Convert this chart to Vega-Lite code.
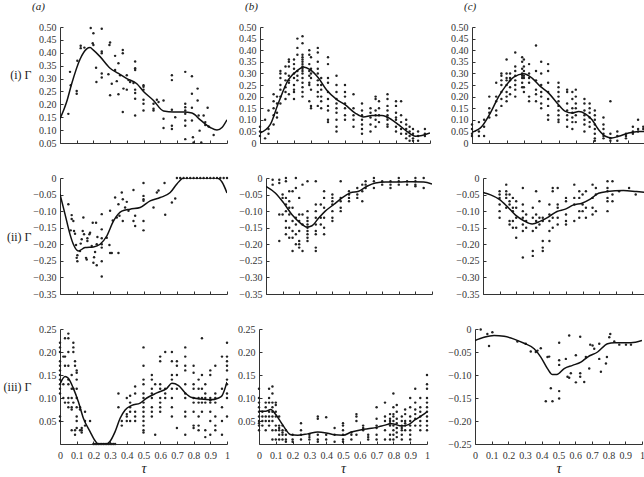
{
"$schema":"https://vega.github.io/schema/vega-lite/v6.json",
"padding":{"left":0,"top":1,"right":0,"bottom":0},
"columns":3,
"align":{"row":"each","column":"none"},
"spacing":{"row":25,"column":7},
"config":{
 "view":{"stroke":null},
 "font":"Liberation Serif",
 "axis":{"grid":false,"domainColor":"#333","tickColor":"#333","labelColor":"#333","labelFont":"Liberation Serif","labelFontSize":10,"tickSize":-3,"domainWidth":1,"tickWidth":1,"titleFont":"Liberation Serif","titleColor":"#222","titleFontWeight":"normal","labelFlush":false,"labelOverlap":false,"labelBound":false,"tickCount":30},
 "axisY":{"labelPadding":7},
 "axisX":{"labelPadding":9},
 "title":{"font":"Liberation Serif","fontSize":11,"fontStyle":"italic","fontWeight":"normal","anchor":"start","frame":"group","color":"#222","offset":10}
},
"datasets":{
"a1":[{"x":0.05,"y":0.163},{"x":0.06,"y":0.326},{"x":0.064,"y":0.274},{"x":0.1,"y":0.252},{"x":0.1,"y":0.241},{"x":0.104,"y":0.369},{"x":0.124,"y":0.427},{"x":0.124,"y":0.418},{"x":0.146,"y":0.42},{"x":0.184,"y":0.496},{"x":0.2,"y":0.476},{"x":0.196,"y":0.437},{"x":0.2,"y":0.43},{"x":0.216,"y":0.342},{"x":0.218,"y":0.287},{"x":0.25,"y":0.493},{"x":0.25,"y":0.405},{"x":0.25,"y":0.398},{"x":0.25,"y":0.32},{"x":0.25,"y":0.304},{"x":0.29,"y":0.317},{"x":0.296,"y":0.43},{"x":0.3,"y":0.44},{"x":0.3,"y":0.235},{"x":0.31,"y":0.28},{"x":0.33,"y":0.388},{"x":0.33,"y":0.333},{"x":0.34,"y":0.29},{"x":0.35,"y":0.359},{"x":0.35,"y":0.239},{"x":0.36,"y":0.313},{"x":0.376,"y":0.411},{"x":0.376,"y":0.398},{"x":0.376,"y":0.17},{"x":0.38,"y":0.261},{"x":0.4,"y":0.257},{"x":0.4,"y":0.313},{"x":0.41,"y":0.294},{"x":0.42,"y":0.287},{"x":0.44,"y":0.283},{"x":0.45,"y":0.366},{"x":0.45,"y":0.34},{"x":0.45,"y":0.333},{"x":0.45,"y":0.257},{"x":0.45,"y":0.222},{"x":0.45,"y":0.157},{"x":0.45,"y":0.244},{"x":0.5,"y":0.274},{"x":0.5,"y":0.268},{"x":0.5,"y":0.257},{"x":0.5,"y":0.218},{"x":0.5,"y":0.202},{"x":0.5,"y":0.176},{"x":0.56,"y":0.202},{"x":0.56,"y":0.183},{"x":0.56,"y":0.176},{"x":0.58,"y":0.218},{"x":0.59,"y":0.209},{"x":0.62,"y":0.215},{"x":0.62,"y":0.144},{"x":0.62,"y":0.108},{"x":0.67,"y":0.313},{"x":0.67,"y":0.294},{"x":0.67,"y":0.179},{"x":0.67,"y":0.117},{"x":0.67,"y":0.104},{"x":0.69,"y":0.15},{"x":0.75,"y":0.326},{"x":0.75,"y":0.202},{"x":0.75,"y":0.189},{"x":0.75,"y":0.176},{"x":0.75,"y":0.163},{"x":0.75,"y":0.137},{"x":0.75,"y":0.117},{"x":0.75,"y":0.065},{"x":0.79,"y":0.309},{"x":0.79,"y":0.241},{"x":0.79,"y":0.187},{"x":0.79,"y":0.137},{"x":0.796,"y":0.072},{"x":0.8,"y":0.052},{"x":0.824,"y":0.261},{"x":0.824,"y":0.215},{"x":0.83,"y":0.157},{"x":0.836,"y":0.098},{"x":0.846,"y":0.052},{"x":0.86,"y":0.157},{"x":0.87,"y":0.131},{"x":0.884,"y":0.187},{"x":0.89,"y":0.114},{"x":0.92,"y":0.081},{"x":0.87,"y":0.12}],
"a1L":[{"x":0,"y":0.144},{"x":0.04,"y":0.21},{"x":0.07,"y":0.28},{"x":0.12,"y":0.375},{"x":0.16,"y":0.415},{"x":0.18,"y":0.42},{"x":0.2,"y":0.41},{"x":0.24,"y":0.385},{"x":0.3,"y":0.34},{"x":0.35,"y":0.32},{"x":0.4,"y":0.3},{"x":0.46,"y":0.28},{"x":0.5,"y":0.25},{"x":0.56,"y":0.215},{"x":0.62,"y":0.174},{"x":0.68,"y":0.17},{"x":0.74,"y":0.17},{"x":0.79,"y":0.166},{"x":0.84,"y":0.14},{"x":0.9,"y":0.11},{"x":0.94,"y":0.1},{"x":0.97,"y":0.11},{"x":1,"y":0.14}],
"b1":[{"x":0,"y":0.07},{"x":0,"y":0.05},{"x":0,"y":0.03},{"x":0.03,"y":0.1},{"x":0.03,"y":0.02},{"x":0.05,"y":0.14},{"x":0.05,"y":0.06},{"x":0.05,"y":0.04},{"x":0.08,"y":0.18},{"x":0.08,"y":0.21},{"x":0.08,"y":0.15},{"x":0.08,"y":0.08},{"x":0.08,"y":0.12},{"x":0.1,"y":0.2},{"x":0.1,"y":0.17},{"x":0.1,"y":0.13},{"x":0.1,"y":0.11},{"x":0.12,"y":0.31},{"x":0.12,"y":0.3},{"x":0.12,"y":0.28},{"x":0.12,"y":0.25},{"x":0.12,"y":0.23},{"x":0.12,"y":0.2},{"x":0.12,"y":0.17},{"x":0.15,"y":0.33},{"x":0.15,"y":0.3},{"x":0.15,"y":0.27},{"x":0.15,"y":0.24},{"x":0.15,"y":0.22},{"x":0.15,"y":0.19},{"x":0.17,"y":0.36},{"x":0.17,"y":0.35},{"x":0.17,"y":0.33},{"x":0.17,"y":0.29},{"x":0.17,"y":0.27},{"x":0.17,"y":0.21},{"x":0.17,"y":0.26},{"x":0.2,"y":0.36},{"x":0.2,"y":0.34},{"x":0.2,"y":0.32},{"x":0.2,"y":0.3},{"x":0.2,"y":0.28},{"x":0.2,"y":0.25},{"x":0.2,"y":0.23},{"x":0.2,"y":0.22},{"x":0.2,"y":0.19},{"x":0.22,"y":0.45},{"x":0.22,"y":0.41},{"x":0.22,"y":0.38},{"x":0.22,"y":0.31},{"x":0.22,"y":0.29},{"x":0.22,"y":0.27},{"x":0.25,"y":0.46},{"x":0.25,"y":0.43},{"x":0.25,"y":0.38},{"x":0.25,"y":0.37},{"x":0.25,"y":0.36},{"x":0.25,"y":0.35},{"x":0.25,"y":0.34},{"x":0.25,"y":0.33},{"x":0.25,"y":0.32},{"x":0.25,"y":0.31},{"x":0.25,"y":0.3},{"x":0.25,"y":0.28},{"x":0.25,"y":0.26},{"x":0.25,"y":0.24},{"x":0.25,"y":0.22},{"x":0.25,"y":0.2},{"x":0.29,"y":0.4},{"x":0.29,"y":0.38},{"x":0.29,"y":0.34},{"x":0.29,"y":0.31},{"x":0.29,"y":0.29},{"x":0.29,"y":0.26},{"x":0.29,"y":0.25},{"x":0.29,"y":0.18},{"x":0.3,"y":0.37},{"x":0.3,"y":0.32},{"x":0.3,"y":0.3},{"x":0.3,"y":0.28},{"x":0.3,"y":0.23},{"x":0.3,"y":0.16},{"x":0.3,"y":0.15},{"x":0.34,"y":0.41},{"x":0.34,"y":0.39},{"x":0.34,"y":0.35},{"x":0.34,"y":0.32},{"x":0.34,"y":0.3},{"x":0.34,"y":0.27},{"x":0.34,"y":0.25},{"x":0.34,"y":0.22},{"x":0.34,"y":0.2},{"x":0.34,"y":0.16},{"x":0.36,"y":0.28},{"x":0.36,"y":0.25},{"x":0.36,"y":0.23},{"x":0.36,"y":0.2},{"x":0.36,"y":0.18},{"x":0.36,"y":0.15},{"x":0.4,"y":0.37},{"x":0.4,"y":0.34},{"x":0.4,"y":0.28},{"x":0.4,"y":0.26},{"x":0.4,"y":0.22},{"x":0.4,"y":0.19},{"x":0.4,"y":0.16},{"x":0.4,"y":0.14},{"x":0.4,"y":0.1},{"x":0.4,"y":0.09},{"x":0.45,"y":0.29},{"x":0.45,"y":0.25},{"x":0.45,"y":0.22},{"x":0.45,"y":0.19},{"x":0.45,"y":0.17},{"x":0.45,"y":0.15},{"x":0.45,"y":0.13},{"x":0.45,"y":0.1},{"x":0.45,"y":0.07},{"x":0.45,"y":0.05},{"x":0.5,"y":0.25},{"x":0.5,"y":0.22},{"x":0.5,"y":0.2},{"x":0.5,"y":0.17},{"x":0.5,"y":0.15},{"x":0.5,"y":0.12},{"x":0.5,"y":0.1},{"x":0.55,"y":0.21},{"x":0.55,"y":0.15},{"x":0.55,"y":0.12},{"x":0.55,"y":0.1},{"x":0.55,"y":0.07},{"x":0.6,"y":0.17},{"x":0.6,"y":0.14},{"x":0.6,"y":0.12},{"x":0.6,"y":0.1},{"x":0.6,"y":0.08},{"x":0.6,"y":0.06},{"x":0.6,"y":0.04},{"x":0.65,"y":0.15},{"x":0.65,"y":0.13},{"x":0.65,"y":0.11},{"x":0.65,"y":0.08},{"x":0.65,"y":0.05},{"x":0.68,"y":0.2},{"x":0.68,"y":0.19},{"x":0.68,"y":0.14},{"x":0.68,"y":0.12},{"x":0.68,"y":0.1},{"x":0.68,"y":0.07},{"x":0.7,"y":0.18},{"x":0.7,"y":0.15},{"x":0.7,"y":0.12},{"x":0.7,"y":0.09},{"x":0.75,"y":0.21},{"x":0.75,"y":0.19},{"x":0.75,"y":0.16},{"x":0.75,"y":0.14},{"x":0.75,"y":0.12},{"x":0.75,"y":0.11},{"x":0.75,"y":0.1},{"x":0.75,"y":0.08},{"x":0.75,"y":0.07},{"x":0.8,"y":0.18},{"x":0.8,"y":0.16},{"x":0.8,"y":0.13},{"x":0.8,"y":0.11},{"x":0.8,"y":0.1},{"x":0.8,"y":0.07},{"x":0.8,"y":0.05},{"x":0.83,"y":0.18},{"x":0.83,"y":0.12},{"x":0.83,"y":0.09},{"x":0.83,"y":0.06},{"x":0.83,"y":0.04},{"x":0.86,"y":0.1},{"x":0.86,"y":0.08},{"x":0.86,"y":0.06},{"x":0.86,"y":0.04},{"x":0.86,"y":0.02},{"x":0.88,"y":0.07},{"x":0.88,"y":0.05},{"x":0.88,"y":0.03},{"x":0.88,"y":0.01},{"x":0.9,"y":0.06},{"x":0.9,"y":0.04},{"x":0.9,"y":0.02},{"x":0.9,"y":0.01},{"x":0.93,"y":0.05},{"x":0.93,"y":0.03},{"x":0.93,"y":0.01},{"x":0.97,"y":0.06},{"x":0.97,"y":0.03},{"x":0.97,"y":0.04}],
"b1L":[{"x":0,"y":0.043},{"x":0.06,"y":0.079},{"x":0.108,"y":0.172},{"x":0.167,"y":0.273},{"x":0.226,"y":0.316},{"x":0.255,"y":0.328},{"x":0.295,"y":0.316},{"x":0.344,"y":0.28},{"x":0.393,"y":0.227},{"x":0.452,"y":0.187},{"x":0.5,"y":0.165},{"x":0.56,"y":0.129},{"x":0.609,"y":0.112},{"x":0.658,"y":0.118},{"x":0.717,"y":0.118},{"x":0.776,"y":0.1},{"x":0.815,"y":0.079},{"x":0.864,"y":0.05},{"x":0.914,"y":0.029},{"x":0.953,"y":0.032},{"x":1,"y":0.043}],
"c1":[{"x":0,"y":0.08},{"x":0,"y":0.06},{"x":0,"y":0.04},{"x":0,"y":0.03},{"x":0.04,"y":0.09},{"x":0.04,"y":0.05},{"x":0.04,"y":0.03},{"x":0.07,"y":0.1},{"x":0.07,"y":0.07},{"x":0.07,"y":0.03},{"x":0.1,"y":0.2},{"x":0.1,"y":0.15},{"x":0.1,"y":0.13},{"x":0.1,"y":0.11},{"x":0.14,"y":0.26},{"x":0.14,"y":0.2},{"x":0.14,"y":0.18},{"x":0.14,"y":0.14},{"x":0.14,"y":0.12},{"x":0.17,"y":0.3},{"x":0.17,"y":0.29},{"x":0.17,"y":0.27},{"x":0.17,"y":0.25},{"x":0.17,"y":0.22},{"x":0.17,"y":0.19},{"x":0.17,"y":0.16},{"x":0.2,"y":0.36},{"x":0.2,"y":0.3},{"x":0.2,"y":0.28},{"x":0.2,"y":0.27},{"x":0.2,"y":0.25},{"x":0.2,"y":0.22},{"x":0.2,"y":0.2},{"x":0.2,"y":0.18},{"x":0.22,"y":0.3},{"x":0.22,"y":0.28},{"x":0.22,"y":0.27},{"x":0.22,"y":0.24},{"x":0.22,"y":0.21},{"x":0.25,"y":0.39},{"x":0.25,"y":0.33},{"x":0.25,"y":0.31},{"x":0.25,"y":0.29},{"x":0.25,"y":0.27},{"x":0.25,"y":0.25},{"x":0.25,"y":0.23},{"x":0.25,"y":0.2},{"x":0.29,"y":0.37},{"x":0.29,"y":0.35},{"x":0.29,"y":0.32},{"x":0.29,"y":0.3},{"x":0.29,"y":0.29},{"x":0.29,"y":0.28},{"x":0.29,"y":0.26},{"x":0.29,"y":0.24},{"x":0.3,"y":0.36},{"x":0.3,"y":0.33},{"x":0.3,"y":0.31},{"x":0.3,"y":0.29},{"x":0.3,"y":0.28},{"x":0.3,"y":0.24},{"x":0.3,"y":0.22},{"x":0.33,"y":0.34},{"x":0.33,"y":0.3},{"x":0.33,"y":0.28},{"x":0.33,"y":0.26},{"x":0.33,"y":0.2},{"x":0.33,"y":0.18},{"x":0.37,"y":0.42},{"x":0.37,"y":0.31},{"x":0.37,"y":0.27},{"x":0.37,"y":0.23},{"x":0.37,"y":0.21},{"x":0.37,"y":0.18},{"x":0.4,"y":0.35},{"x":0.4,"y":0.3},{"x":0.4,"y":0.25},{"x":0.4,"y":0.22},{"x":0.4,"y":0.2},{"x":0.4,"y":0.17},{"x":0.4,"y":0.15},{"x":0.44,"y":0.34},{"x":0.44,"y":0.31},{"x":0.44,"y":0.26},{"x":0.44,"y":0.22},{"x":0.44,"y":0.19},{"x":0.44,"y":0.16},{"x":0.44,"y":0.12},{"x":0.44,"y":0.1},{"x":0.5,"y":0.26},{"x":0.5,"y":0.24},{"x":0.5,"y":0.22},{"x":0.5,"y":0.2},{"x":0.5,"y":0.18},{"x":0.5,"y":0.16},{"x":0.5,"y":0.14},{"x":0.5,"y":0.12},{"x":0.5,"y":0.1},{"x":0.5,"y":0.09},{"x":0.55,"y":0.23},{"x":0.55,"y":0.22},{"x":0.55,"y":0.17},{"x":0.55,"y":0.14},{"x":0.55,"y":0.12},{"x":0.55,"y":0.1},{"x":0.55,"y":0.07},{"x":0.58,"y":0.22},{"x":0.58,"y":0.19},{"x":0.58,"y":0.15},{"x":0.58,"y":0.13},{"x":0.58,"y":0.11},{"x":0.58,"y":0.09},{"x":0.58,"y":0.06},{"x":0.6,"y":0.23},{"x":0.6,"y":0.2},{"x":0.6,"y":0.17},{"x":0.6,"y":0.15},{"x":0.6,"y":0.12},{"x":0.6,"y":0.09},{"x":0.65,"y":0.19},{"x":0.65,"y":0.17},{"x":0.65,"y":0.14},{"x":0.65,"y":0.12},{"x":0.65,"y":0.1},{"x":0.65,"y":0.08},{"x":0.65,"y":0.05},{"x":0.68,"y":0.17},{"x":0.68,"y":0.15},{"x":0.68,"y":0.13},{"x":0.68,"y":0.11},{"x":0.68,"y":0.09},{"x":0.68,"y":0.07},{"x":0.71,"y":0.14},{"x":0.71,"y":0.12},{"x":0.71,"y":0.1},{"x":0.71,"y":0.08},{"x":0.71,"y":0.06},{"x":0.71,"y":0.04},{"x":0.71,"y":0.02},{"x":0.71,"y":0.01},{"x":0.76,"y":0.11},{"x":0.76,"y":0.08},{"x":0.76,"y":0.06},{"x":0.76,"y":0.04},{"x":0.76,"y":0.03},{"x":0.76,"y":0.02},{"x":0.8,"y":0.18},{"x":0.8,"y":0.04},{"x":0.8,"y":0.02},{"x":0.8,"y":0.01},{"x":0.84,"y":0.05},{"x":0.84,"y":0.03},{"x":0.84,"y":0.01},{"x":0.89,"y":0.04},{"x":0.89,"y":0.03},{"x":0.89,"y":0.02},{"x":0.93,"y":0.07},{"x":0.93,"y":0.05},{"x":0.93,"y":0.04},{"x":0.96,"y":0.1},{"x":0.96,"y":0.06},{"x":0.96,"y":0.05},{"x":0.99,"y":0.07},{"x":0.99,"y":0.06}],
"c1L":[{"x":0,"y":0.046},{"x":0.058,"y":0.072},{"x":0.106,"y":0.129},{"x":0.154,"y":0.2},{"x":0.193,"y":0.244},{"x":0.241,"y":0.284},{"x":0.3,"y":0.299},{"x":0.347,"y":0.28},{"x":0.395,"y":0.244},{"x":0.443,"y":0.215},{"x":0.5,"y":0.165},{"x":0.54,"y":0.136},{"x":0.578,"y":0.129},{"x":0.617,"y":0.136},{"x":0.655,"y":0.126},{"x":0.694,"y":0.1},{"x":0.732,"y":0.057},{"x":0.771,"y":0.029},{"x":0.809,"y":0.022},{"x":0.848,"y":0.029},{"x":0.905,"y":0.043},{"x":0.963,"y":0.05},{"x":1,"y":0.05}],
"a2":[{"x":0.05,"y":-0.079},{"x":0.064,"y":-0.158},{"x":0.07,"y":-0.112},{"x":0.07,"y":-0.124},{"x":0.08,"y":-0.13},{"x":0.084,"y":-0.16},{"x":0.09,"y":-0.168},{"x":0.096,"y":-0.202},{"x":0.104,"y":-0.233},{"x":0.1,"y":-0.241},{"x":0.104,"y":-0.251},{"x":0.12,"y":-0.22},{"x":0.124,"y":-0.198},{"x":0.13,"y":-0.185},{"x":0.136,"y":-0.16},{"x":0.14,"y":-0.119},{"x":0.144,"y":-0.17},{"x":0.156,"y":-0.241},{"x":0.16,"y":-0.246},{"x":0.164,"y":-0.182},{"x":0.164,"y":-0.19},{"x":0.176,"y":-0.17},{"x":0.18,"y":-0.165},{"x":0.19,"y":-0.205},{"x":0.196,"y":-0.135},{"x":0.2,"y":-0.256},{"x":0.204,"y":-0.239},{"x":0.21,"y":-0.223},{"x":0.216,"y":-0.135},{"x":0.22,"y":-0.2},{"x":0.22,"y":-0.263},{"x":0.224,"y":-0.178},{"x":0.25,"y":-0.155},{"x":0.25,"y":-0.182},{"x":0.25,"y":-0.2},{"x":0.25,"y":-0.21},{"x":0.25,"y":-0.251},{"x":0.25,"y":-0.297},{"x":0.25,"y":-0.109},{"x":0.28,"y":-0.18},{"x":0.296,"y":-0.202},{"x":0.3,"y":-0.099},{"x":0.3,"y":-0.226},{"x":0.31,"y":-0.226},{"x":0.316,"y":-0.128},{"x":0.33,"y":-0.059},{"x":0.34,"y":-0.119},{"x":0.35,"y":-0.079},{"x":0.35,"y":-0.226},{"x":0.356,"y":-0.114},{"x":0.37,"y":-0.044},{"x":0.376,"y":-0.064},{"x":0.376,"y":-0.13},{"x":0.39,"y":-0.089},{"x":0.4,"y":-0.072},{"x":0.41,"y":-0.099},{"x":0.44,"y":-0.036},{"x":0.44,"y":-0.13},{"x":0.45,"y":-0.114},{"x":0.45,"y":-0.145},{"x":0.5,"y":-0.015},{"x":0.5,"y":-0.054},{"x":0.5,"y":-0.064},{"x":0.5,"y":-0.069},{"x":0.5,"y":-0.13},{"x":0.5,"y":-0.158},{"x":0.56,"y":-0.089},{"x":0.58,"y":-0.044},{"x":0.59,"y":-0.038},{"x":0.626,"y":-0.015},{"x":0.63,"y":-0.111},{"x":0.67,"y":-0.074},{"x":0.69,"y":-0.062},{"x":0.7,"y":0},{"x":0.72,"y":0},{"x":0.74,"y":0},{"x":0.76,"y":0},{"x":0.78,"y":0},{"x":0.8,"y":0},{"x":0.82,"y":0},{"x":0.84,"y":0},{"x":0.86,"y":0},{"x":0.88,"y":0},{"x":0.9,"y":0},{"x":0.92,"y":0},{"x":0.94,"y":0},{"x":0.96,"y":0},{"x":0.98,"y":0},{"x":1,"y":0}],
"a2L":[{"x":0,"y":-0.049},{"x":0.03,"y":-0.109},{"x":0.06,"y":-0.17},{"x":0.08,"y":-0.2},{"x":0.11,"y":-0.22},{"x":0.15,"y":-0.21},{"x":0.2,"y":-0.208},{"x":0.24,"y":-0.2},{"x":0.28,"y":-0.175},{"x":0.32,"y":-0.13},{"x":0.37,"y":-0.1},{"x":0.42,"y":-0.094},{"x":0.48,"y":-0.089},{"x":0.54,"y":-0.069},{"x":0.6,"y":-0.059},{"x":0.66,"y":-0.044},{"x":0.7,"y":-0.018},{"x":0.74,"y":0},{"x":0.8,"y":0},{"x":0.9,"y":0},{"x":0.94,"y":0},{"x":0.97,"y":-0.012},{"x":1,"y":-0.045}],
"b2":[{"x":0.04,"y":-0.02},{"x":0.04,"y":-0.005},{"x":0.08,"y":-0.005},{"x":0.08,"y":-0.015},{"x":0.08,"y":-0.11},{"x":0.08,"y":-0.19},{"x":0.1,"y":-0.05},{"x":0.1,"y":-0.06},{"x":0.1,"y":-0.11},{"x":0.12,"y":0},{"x":0.12,"y":-0.01},{"x":0.12,"y":-0.06},{"x":0.12,"y":-0.08},{"x":0.12,"y":-0.1},{"x":0.12,"y":-0.13},{"x":0.12,"y":-0.15},{"x":0.12,"y":-0.17},{"x":0.14,"y":-0.04},{"x":0.14,"y":-0.07},{"x":0.14,"y":-0.09},{"x":0.14,"y":-0.11},{"x":0.14,"y":-0.15},{"x":0.14,"y":-0.18},{"x":0.16,"y":-0.04},{"x":0.16,"y":-0.09},{"x":0.16,"y":-0.13},{"x":0.16,"y":-0.16},{"x":0.16,"y":-0.18},{"x":0.16,"y":-0.22},{"x":0.18,"y":0},{"x":0.18,"y":-0.03},{"x":0.18,"y":-0.12},{"x":0.18,"y":-0.14},{"x":0.18,"y":-0.17},{"x":0.18,"y":-0.2},{"x":0.2,"y":-0.06},{"x":0.2,"y":-0.11},{"x":0.2,"y":-0.13},{"x":0.2,"y":-0.16},{"x":0.2,"y":-0.19},{"x":0.2,"y":-0.2},{"x":0.2,"y":-0.21},{"x":0.22,"y":-0.02},{"x":0.22,"y":-0.11},{"x":0.22,"y":-0.14},{"x":0.22,"y":-0.22},{"x":0.25,"y":-0.01},{"x":0.25,"y":-0.1},{"x":0.25,"y":-0.12},{"x":0.25,"y":-0.13},{"x":0.25,"y":-0.14},{"x":0.25,"y":-0.15},{"x":0.25,"y":-0.16},{"x":0.25,"y":-0.17},{"x":0.25,"y":-0.18},{"x":0.25,"y":-0.19},{"x":0.3,"y":-0.01},{"x":0.3,"y":-0.08},{"x":0.3,"y":-0.1},{"x":0.3,"y":-0.12},{"x":0.3,"y":-0.14},{"x":0.3,"y":-0.16},{"x":0.3,"y":-0.17},{"x":0.3,"y":-0.21},{"x":0.3,"y":-0.22},{"x":0.33,"y":-0.08},{"x":0.33,"y":-0.12},{"x":0.33,"y":-0.14},{"x":0.35,"y":-0.04},{"x":0.35,"y":-0.06},{"x":0.35,"y":-0.09},{"x":0.35,"y":-0.12},{"x":0.35,"y":-0.15},{"x":0.35,"y":-0.17},{"x":0.4,"y":-0.05},{"x":0.4,"y":-0.06},{"x":0.4,"y":-0.07},{"x":0.4,"y":-0.08},{"x":0.4,"y":-0.1},{"x":0.4,"y":-0.12},{"x":0.4,"y":-0.13},{"x":0.45,"y":-0.01},{"x":0.45,"y":-0.06},{"x":0.45,"y":-0.07},{"x":0.45,"y":-0.09},{"x":0.45,"y":-0.1},{"x":0.5,"y":-0.04},{"x":0.5,"y":-0.05},{"x":0.5,"y":-0.06},{"x":0.5,"y":-0.07},{"x":0.55,"y":-0.03},{"x":0.55,"y":-0.05},{"x":0.55,"y":-0.06},{"x":0.58,"y":-0.02},{"x":0.58,"y":-0.04},{"x":0.58,"y":-0.07},{"x":0.6,"y":-0.01},{"x":0.6,"y":-0.02},{"x":0.6,"y":-0.03},{"x":0.65,"y":0},{"x":0.65,"y":-0.01},{"x":0.65,"y":-0.03},{"x":0.7,"y":-0.01},{"x":0.7,"y":-0.02},{"x":0.75,"y":-0.01},{"x":0.75,"y":-0.02},{"x":0.75,"y":-0.03},{"x":0.8,"y":0},{"x":0.8,"y":-0.01},{"x":0.8,"y":-0.02},{"x":0.85,"y":-0.01},{"x":0.85,"y":-0.02},{"x":0.9,"y":0},{"x":0.9,"y":-0.01},{"x":0.9,"y":-0.02},{"x":0.9,"y":-0.025},{"x":0.95,"y":0},{"x":0.95,"y":-0.03}],
"b2L":[{"x":0,"y":-0.025},{"x":0.056,"y":-0.045},{"x":0.106,"y":-0.075},{"x":0.157,"y":-0.111},{"x":0.207,"y":-0.136},{"x":0.247,"y":-0.148},{"x":0.277,"y":-0.144},{"x":0.317,"y":-0.121},{"x":0.357,"y":-0.1},{"x":0.408,"y":-0.08},{"x":0.458,"y":-0.06},{"x":0.508,"y":-0.045},{"x":0.558,"y":-0.04},{"x":0.608,"y":-0.025},{"x":0.659,"y":-0.015},{"x":0.719,"y":-0.012},{"x":0.8,"y":-0.012},{"x":0.88,"y":-0.011},{"x":0.95,"y":-0.012},{"x":1,"y":-0.018}],
"c2":[{"x":0.1,"y":-0.04},{"x":0.1,"y":-0.05},{"x":0.1,"y":-0.06},{"x":0.1,"y":-0.08},{"x":0.1,"y":-0.1},{"x":0.1,"y":-0.12},{"x":0.14,"y":-0.02},{"x":0.14,"y":-0.04},{"x":0.14,"y":-0.05},{"x":0.14,"y":-0.06},{"x":0.14,"y":-0.09},{"x":0.16,"y":-0.05},{"x":0.16,"y":-0.07},{"x":0.16,"y":-0.08},{"x":0.16,"y":-0.13},{"x":0.16,"y":-0.14},{"x":0.18,"y":-0.06},{"x":0.18,"y":-0.09},{"x":0.18,"y":-0.1},{"x":0.18,"y":-0.13},{"x":0.18,"y":-0.15},{"x":0.2,"y":-0.07},{"x":0.2,"y":-0.09},{"x":0.2,"y":-0.12},{"x":0.2,"y":-0.15},{"x":0.2,"y":-0.18},{"x":0.24,"y":-0.08},{"x":0.24,"y":-0.1},{"x":0.24,"y":-0.12},{"x":0.24,"y":-0.14},{"x":0.24,"y":-0.16},{"x":0.24,"y":-0.24},{"x":0.24,"y":-0.03},{"x":0.26,"y":-0.11},{"x":0.26,"y":-0.13},{"x":0.26,"y":-0.15},{"x":0.3,"y":-0.09},{"x":0.3,"y":-0.12},{"x":0.3,"y":-0.16},{"x":0.3,"y":-0.22},{"x":0.3,"y":-0.235},{"x":0.32,"y":-0.04},{"x":0.32,"y":-0.11},{"x":0.32,"y":-0.13},{"x":0.32,"y":-0.15},{"x":0.34,"y":-0.07},{"x":0.34,"y":-0.12},{"x":0.34,"y":-0.14},{"x":0.36,"y":-0.12},{"x":0.36,"y":-0.13},{"x":0.36,"y":-0.19},{"x":0.36,"y":-0.21},{"x":0.36,"y":-0.22},{"x":0.4,"y":-0.08},{"x":0.4,"y":-0.11},{"x":0.4,"y":-0.13},{"x":0.4,"y":-0.16},{"x":0.4,"y":-0.19},{"x":0.42,"y":-0.03},{"x":0.42,"y":-0.04},{"x":0.42,"y":-0.12},{"x":0.42,"y":-0.15},{"x":0.45,"y":-0.03},{"x":0.45,"y":-0.08},{"x":0.45,"y":-0.09},{"x":0.45,"y":-0.12},{"x":0.45,"y":-0.14},{"x":0.5,"y":-0.06},{"x":0.5,"y":-0.07},{"x":0.5,"y":-0.11},{"x":0.5,"y":-0.13},{"x":0.5,"y":-0.14},{"x":0.55,"y":-0.02},{"x":0.55,"y":-0.06},{"x":0.55,"y":-0.08},{"x":0.55,"y":-0.13},{"x":0.58,"y":-0.04},{"x":0.58,"y":-0.06},{"x":0.58,"y":-0.1},{"x":0.58,"y":-0.12},{"x":0.6,"y":-0.05},{"x":0.6,"y":-0.08},{"x":0.6,"y":-0.1},{"x":0.62,"y":-0.04},{"x":0.62,"y":-0.09},{"x":0.62,"y":-0.12},{"x":0.66,"y":-0.02},{"x":0.66,"y":-0.06},{"x":0.66,"y":-0.09},{"x":0.66,"y":-0.11},{"x":0.68,"y":-0.03},{"x":0.68,"y":-0.05},{"x":0.68,"y":-0.1},{"x":0.75,"y":-0.01},{"x":0.75,"y":-0.03},{"x":0.75,"y":-0.04},{"x":0.75,"y":-0.06},{"x":0.75,"y":-0.07},{"x":0.75,"y":-0.1},{"x":0.78,"y":-0.01},{"x":0.78,"y":-0.05},{"x":0.78,"y":-0.07},{"x":0.82,"y":-0.04},{"x":0.88,"y":-0.03},{"x":0.92,"y":-0.05}],
"c2L":[{"x":0,"y":-0.044},{"x":0.046,"y":-0.051},{"x":0.096,"y":-0.064},{"x":0.146,"y":-0.086},{"x":0.196,"y":-0.112},{"x":0.246,"y":-0.129},{"x":0.296,"y":-0.139},{"x":0.346,"y":-0.13},{"x":0.396,"y":-0.117},{"x":0.446,"y":-0.101},{"x":0.496,"y":-0.094},{"x":0.546,"y":-0.081},{"x":0.596,"y":-0.076},{"x":0.646,"y":-0.064},{"x":0.696,"y":-0.046},{"x":0.746,"y":-0.041},{"x":0.846,"y":-0.038},{"x":0.926,"y":-0.041},{"x":1,"y":-0.044}],
"a3":[{"x":0,"y":0.22},{"x":0,"y":0.21},{"x":0,"y":0.2},{"x":0,"y":0.18},{"x":0,"y":0.17},{"x":0,"y":0.16},{"x":0,"y":0.15},{"x":0,"y":0.14},{"x":0,"y":0.13},{"x":0,"y":0.12},{"x":0,"y":0.11},{"x":0,"y":0.06},{"x":0,"y":0.05},{"x":0.02,"y":0.19},{"x":0.02,"y":0.13},{"x":0.02,"y":0.1},{"x":0.03,"y":0.23},{"x":0.03,"y":0.19},{"x":0.03,"y":0.17},{"x":0.03,"y":0.09},{"x":0.05,"y":0.24},{"x":0.05,"y":0.23},{"x":0.05,"y":0.2},{"x":0.05,"y":0.17},{"x":0.05,"y":0.14},{"x":0.05,"y":0.13},{"x":0.05,"y":0.1},{"x":0.05,"y":0.09},{"x":0.05,"y":0.08},{"x":0.07,"y":0.15},{"x":0.07,"y":0.12},{"x":0.07,"y":0.1},{"x":0.07,"y":0.08},{"x":0.07,"y":0.075},{"x":0.07,"y":0.03},{"x":0.08,"y":0.22},{"x":0.08,"y":0.21},{"x":0.08,"y":0.2},{"x":0.08,"y":0.12},{"x":0.08,"y":0.09},{"x":0.09,"y":0.18},{"x":0.09,"y":0.17},{"x":0.09,"y":0.03},{"x":0.09,"y":0.02},{"x":0.1,"y":0.16},{"x":0.1,"y":0.155},{"x":0.1,"y":0.14},{"x":0.1,"y":0.12},{"x":0.1,"y":0.1},{"x":0.1,"y":0.08},{"x":0.1,"y":0.06},{"x":0.1,"y":0.05},{"x":0.1,"y":0.035},{"x":0.12,"y":0.08},{"x":0.12,"y":0.075},{"x":0.12,"y":0.03},{"x":0.13,"y":0.035},{"x":0.13,"y":0.03},{"x":0.13,"y":0.025},{"x":0.15,"y":0.07},{"x":0.15,"y":0.05},{"x":0.15,"y":0.04},{"x":0.18,"y":0.05},{"x":0.2,"y":0},{"x":0.21,"y":0},{"x":0.22,"y":0},{"x":0.23,"y":0},{"x":0.24,"y":0},{"x":0.25,"y":0},{"x":0.26,"y":0},{"x":0.27,"y":0},{"x":0.28,"y":0},{"x":0.29,"y":0},{"x":0.3,"y":0},{"x":0.31,"y":0},{"x":0.32,"y":0},{"x":0.33,"y":0},{"x":0.35,"y":0.11},{"x":0.35,"y":0.08},{"x":0.37,"y":0.05},{"x":0.37,"y":0.04},{"x":0.4,"y":0.1},{"x":0.4,"y":0.065},{"x":0.4,"y":0.06},{"x":0.4,"y":0.05},{"x":0.42,"y":0.105},{"x":0.42,"y":0.09},{"x":0.42,"y":0.08},{"x":0.42,"y":0.07},{"x":0.42,"y":0.05},{"x":0.45,"y":0.125},{"x":0.45,"y":0.11},{"x":0.45,"y":0.07},{"x":0.45,"y":0.06},{"x":0.45,"y":0.05},{"x":0.5,"y":0.21},{"x":0.5,"y":0.17},{"x":0.5,"y":0.14},{"x":0.5,"y":0.13},{"x":0.5,"y":0.11},{"x":0.5,"y":0.1},{"x":0.5,"y":0.09},{"x":0.5,"y":0.08},{"x":0.5,"y":0.07},{"x":0.5,"y":0.06},{"x":0.5,"y":0.05},{"x":0.5,"y":0.04},{"x":0.5,"y":0.03},{"x":0.5,"y":0.025},{"x":0.55,"y":0.15},{"x":0.55,"y":0.14},{"x":0.55,"y":0.12},{"x":0.55,"y":0.11},{"x":0.55,"y":0.1},{"x":0.55,"y":0.08},{"x":0.55,"y":0.07},{"x":0.55,"y":0.06},{"x":0.57,"y":0.02},{"x":0.57,"y":0.13},{"x":0.6,"y":0.19},{"x":0.6,"y":0.18},{"x":0.6,"y":0.13},{"x":0.6,"y":0.12},{"x":0.6,"y":0.1},{"x":0.6,"y":0.09},{"x":0.6,"y":0.08},{"x":0.6,"y":0.07},{"x":0.63,"y":0.2},{"x":0.63,"y":0.12},{"x":0.63,"y":0.11},{"x":0.63,"y":0.1},{"x":0.67,"y":0.2},{"x":0.67,"y":0.18},{"x":0.67,"y":0.15},{"x":0.67,"y":0.14},{"x":0.67,"y":0.12},{"x":0.67,"y":0.1},{"x":0.67,"y":0.08},{"x":0.67,"y":0.06},{"x":0.7,"y":0.18},{"x":0.7,"y":0.17},{"x":0.7,"y":0.15},{"x":0.7,"y":0.12},{"x":0.7,"y":0.035},{"x":0.75,"y":0.21},{"x":0.75,"y":0.19},{"x":0.75,"y":0.17},{"x":0.75,"y":0.16},{"x":0.75,"y":0.13},{"x":0.75,"y":0.11},{"x":0.75,"y":0.1},{"x":0.75,"y":0.07},{"x":0.75,"y":0.06},{"x":0.75,"y":0.02},{"x":0.8,"y":0.17},{"x":0.8,"y":0.155},{"x":0.8,"y":0.13},{"x":0.8,"y":0.12},{"x":0.8,"y":0.1},{"x":0.8,"y":0.09},{"x":0.8,"y":0.07},{"x":0.8,"y":0.04},{"x":0.8,"y":0.035},{"x":0.83,"y":0.14},{"x":0.83,"y":0.12},{"x":0.83,"y":0.1},{"x":0.83,"y":0.09},{"x":0.83,"y":0.06},{"x":0.83,"y":0.04},{"x":0.83,"y":0.03},{"x":0.85,"y":0.23},{"x":0.85,"y":0.15},{"x":0.85,"y":0.12},{"x":0.85,"y":0.1},{"x":0.85,"y":0.09},{"x":0.85,"y":0.07},{"x":0.87,"y":0.13},{"x":0.87,"y":0.11},{"x":0.87,"y":0.1},{"x":0.87,"y":0.09},{"x":0.87,"y":0.03},{"x":0.87,"y":0.015},{"x":0.9,"y":0.16},{"x":0.9,"y":0.15},{"x":0.9,"y":0.1},{"x":0.9,"y":0.095},{"x":0.9,"y":0.09},{"x":0.9,"y":0.07},{"x":0.9,"y":0.05},{"x":0.9,"y":0.02},{"x":0.93,"y":0.17},{"x":0.93,"y":0.11},{"x":0.93,"y":0.1},{"x":0.93,"y":0.09},{"x":0.93,"y":0.06},{"x":0.93,"y":0.04},{"x":0.93,"y":0.03},{"x":0.97,"y":0.19},{"x":0.97,"y":0.12},{"x":0.97,"y":0.08},{"x":0.97,"y":0.05},{"x":0.97,"y":0.02},{"x":1,"y":0.22},{"x":1,"y":0.19},{"x":1,"y":0.18},{"x":1,"y":0.17},{"x":1,"y":0.16},{"x":1,"y":0.14},{"x":1,"y":0.13},{"x":1,"y":0.11},{"x":1,"y":0.1},{"x":1,"y":0.06}],
"a3L":[{"x":0,"y":0.13},{"x":0.03,"y":0.147},{"x":0.05,"y":0.143},{"x":0.08,"y":0.121},{"x":0.11,"y":0.092},{"x":0.14,"y":0.056},{"x":0.18,"y":0.027},{"x":0.21,"y":0.007},{"x":0.23,"y":0},{"x":0.28,"y":0},{"x":0.3,"y":0.006},{"x":0.33,"y":0.027},{"x":0.36,"y":0.056},{"x":0.39,"y":0.074},{"x":0.43,"y":0.084},{"x":0.48,"y":0.089},{"x":0.52,"y":0.1},{"x":0.58,"y":0.111},{"x":0.64,"y":0.121},{"x":0.67,"y":0.132},{"x":0.71,"y":0.127},{"x":0.75,"y":0.111},{"x":0.79,"y":0.101},{"x":0.84,"y":0.098},{"x":0.9,"y":0.096},{"x":0.95,"y":0.1},{"x":0.97,"y":0.105},{"x":1,"y":0.135}],
"b3":[{"x":0,"y":0.12},{"x":0,"y":0.1},{"x":0,"y":0.09},{"x":0,"y":0.08},{"x":0,"y":0.07},{"x":0,"y":0.06},{"x":0,"y":0.05},{"x":0,"y":0.045},{"x":0,"y":0.04},{"x":0,"y":0.03},{"x":0.02,"y":0.07},{"x":0.02,"y":0.06},{"x":0.02,"y":0.05},{"x":0.02,"y":0.04},{"x":0.04,"y":0.09},{"x":0.04,"y":0.08},{"x":0.04,"y":0.06},{"x":0.04,"y":0.05},{"x":0.04,"y":0.03},{"x":0.06,"y":0.12},{"x":0.06,"y":0.1},{"x":0.06,"y":0.09},{"x":0.06,"y":0.07},{"x":0.06,"y":0.06},{"x":0.06,"y":0.05},{"x":0.06,"y":0.04},{"x":0.08,"y":0.125},{"x":0.08,"y":0.11},{"x":0.08,"y":0.09},{"x":0.08,"y":0.08},{"x":0.08,"y":0.07},{"x":0.08,"y":0.06},{"x":0.08,"y":0.05},{"x":0.08,"y":0.03},{"x":0.08,"y":0.01},{"x":0.1,"y":0.09},{"x":0.1,"y":0.085},{"x":0.1,"y":0.07},{"x":0.1,"y":0.06},{"x":0.1,"y":0.04},{"x":0.1,"y":0.03},{"x":0.1,"y":0.01},{"x":0.12,"y":0.06},{"x":0.12,"y":0.04},{"x":0.12,"y":0.035},{"x":0.12,"y":0.03},{"x":0.12,"y":0.02},{"x":0.12,"y":0.01},{"x":0.14,"y":0.04},{"x":0.14,"y":0.03},{"x":0.14,"y":0.025},{"x":0.14,"y":0.02},{"x":0.14,"y":0.01},{"x":0.16,"y":0.03},{"x":0.16,"y":0.02},{"x":0.16,"y":0.01},{"x":0.16,"y":0.005},{"x":0.2,"y":0.02},{"x":0.2,"y":0.01},{"x":0.2,"y":0.005},{"x":0.25,"y":0.045},{"x":0.25,"y":0.03},{"x":0.25,"y":0.02},{"x":0.25,"y":0.01},{"x":0.3,"y":0.02},{"x":0.3,"y":0.015},{"x":0.3,"y":0.01},{"x":0.35,"y":0.06},{"x":0.35,"y":0.055},{"x":0.35,"y":0.02},{"x":0.35,"y":0.01},{"x":0.35,"y":0.005},{"x":0.4,"y":0.058},{"x":0.4,"y":0.02},{"x":0.4,"y":0.01},{"x":0.45,"y":0.035},{"x":0.45,"y":0.02},{"x":0.45,"y":0.005},{"x":0.5,"y":0.045},{"x":0.5,"y":0.04},{"x":0.5,"y":0.03},{"x":0.5,"y":0.02},{"x":0.5,"y":0.01},{"x":0.5,"y":0.005},{"x":0.55,"y":0.025},{"x":0.55,"y":0.02},{"x":0.55,"y":0.01},{"x":0.58,"y":0.065},{"x":0.58,"y":0.06},{"x":0.58,"y":0.05},{"x":0.58,"y":0.02},{"x":0.62,"y":0.04},{"x":0.62,"y":0.035},{"x":0.62,"y":0.03},{"x":0.65,"y":0.02},{"x":0.65,"y":0.015},{"x":0.65,"y":0.01},{"x":0.7,"y":0.08},{"x":0.7,"y":0.055},{"x":0.7,"y":0.04},{"x":0.7,"y":0.035},{"x":0.7,"y":0.02},{"x":0.7,"y":0.01},{"x":0.75,"y":0.09},{"x":0.75,"y":0.06},{"x":0.75,"y":0.05},{"x":0.75,"y":0.03},{"x":0.75,"y":0.01},{"x":0.78,"y":0.065},{"x":0.78,"y":0.055},{"x":0.78,"y":0.05},{"x":0.78,"y":0.045},{"x":0.78,"y":0.04},{"x":0.78,"y":0.02},{"x":0.78,"y":0.01},{"x":0.8,"y":0.11},{"x":0.8,"y":0.08},{"x":0.8,"y":0.065},{"x":0.8,"y":0.06},{"x":0.8,"y":0.05},{"x":0.8,"y":0.04},{"x":0.8,"y":0.03},{"x":0.8,"y":0.02},{"x":0.8,"y":0.01},{"x":0.82,"y":0.085},{"x":0.82,"y":0.07},{"x":0.82,"y":0.055},{"x":0.82,"y":0.045},{"x":0.82,"y":0.035},{"x":0.82,"y":0.025},{"x":0.82,"y":0.015},{"x":0.85,"y":0.06},{"x":0.85,"y":0.05},{"x":0.85,"y":0.04},{"x":0.85,"y":0.035},{"x":0.85,"y":0.03},{"x":0.85,"y":0.02},{"x":0.85,"y":0.01},{"x":0.87,"y":0.075},{"x":0.87,"y":0.065},{"x":0.87,"y":0.05},{"x":0.87,"y":0.045},{"x":0.87,"y":0.04},{"x":0.87,"y":0.03},{"x":0.9,"y":0.1},{"x":0.9,"y":0.08},{"x":0.9,"y":0.06},{"x":0.9,"y":0.05},{"x":0.9,"y":0.04},{"x":0.9,"y":0.03},{"x":0.9,"y":0.02},{"x":0.9,"y":0.01},{"x":0.93,"y":0.12},{"x":0.93,"y":0.09},{"x":0.93,"y":0.075},{"x":0.93,"y":0.065},{"x":0.93,"y":0.055},{"x":0.93,"y":0.04},{"x":0.96,"y":0.1},{"x":0.96,"y":0.08},{"x":0.96,"y":0.07},{"x":0.96,"y":0.06},{"x":0.96,"y":0.05},{"x":0.96,"y":0.04},{"x":0.96,"y":0.03},{"x":1,"y":0.15},{"x":1,"y":0.13},{"x":1,"y":0.12},{"x":1,"y":0.1},{"x":1,"y":0.09},{"x":1,"y":0.08},{"x":1,"y":0.07},{"x":1,"y":0.06},{"x":1,"y":0.05},{"x":1,"y":0.04},{"x":1,"y":0.03}],
"b3L":[{"x":0,"y":0.071},{"x":0.04,"y":0.071},{"x":0.07,"y":0.075},{"x":0.1,"y":0.064},{"x":0.14,"y":0.042},{"x":0.19,"y":0.02},{"x":0.23,"y":0.019},{"x":0.29,"y":0.022},{"x":0.35,"y":0.026},{"x":0.4,"y":0.024},{"x":0.45,"y":0.02},{"x":0.5,"y":0.019},{"x":0.55,"y":0.026},{"x":0.61,"y":0.031},{"x":0.67,"y":0.034},{"x":0.73,"y":0.039},{"x":0.79,"y":0.044},{"x":0.85,"y":0.039},{"x":0.89,"y":0.042},{"x":0.93,"y":0.053},{"x":0.97,"y":0.062},{"x":1,"y":0.07}],
"c3":[{"x":0.034,"y":-0.001},{"x":0.074,"y":-0.011},{"x":0.084,"y":-0.037},{"x":0.104,"y":-0.007},{"x":0.254,"y":-0.027},{"x":0.304,"y":-0.032},{"x":0.334,"y":-0.049},{"x":0.364,"y":-0.05},{"x":0.374,"y":-0.047},{"x":0.394,"y":-0.042},{"x":0.434,"y":-0.061},{"x":0.444,"y":-0.06},{"x":0.424,"y":-0.157},{"x":0.454,"y":-0.129},{"x":0.464,"y":-0.157},{"x":0.504,"y":-0.03},{"x":0.504,"y":-0.068},{"x":0.504,"y":-0.078},{"x":0.504,"y":-0.135},{"x":0.504,"y":-0.151},{"x":0.544,"y":-0.065},{"x":0.554,"y":-0.104},{"x":0.564,"y":-0.106},{"x":0.564,"y":-0.014},{"x":0.574,"y":-0.096},{"x":0.604,"y":-0.057},{"x":0.604,"y":-0.116},{"x":0.63,"y":-0.017},{"x":0.63,"y":-0.096},{"x":0.63,"y":-0.104},{"x":0.654,"y":-0.115},{"x":0.664,"y":-0.061},{"x":0.684,"y":-0.086},{"x":0.69,"y":-0.034},{"x":0.704,"y":-0.036},{"x":0.714,"y":-0.043},{"x":0.744,"y":-0.032},{"x":0.744,"y":-0.065},{"x":0.754,"y":-0.093},{"x":0.784,"y":-0.075},{"x":0.79,"y":-0.061},{"x":0.804,"y":-0.018},{"x":0.81,"y":-0.011},{"x":0.834,"y":-0.027},{"x":0.864,"y":-0.034},{"x":0.904,"y":-0.034},{"x":0.934,"y":-0.034}],
"c3L":[{"x":0,"y":-0.025},{"x":0.054,"y":-0.018},{"x":0.114,"y":-0.014},{"x":0.174,"y":-0.016},{"x":0.234,"y":-0.022},{"x":0.294,"y":-0.031},{"x":0.354,"y":-0.043},{"x":0.394,"y":-0.061},{"x":0.434,"y":-0.086},{"x":0.464,"y":-0.099},{"x":0.49,"y":-0.099},{"x":0.534,"y":-0.086},{"x":0.584,"y":-0.079},{"x":0.634,"y":-0.072},{"x":0.674,"y":-0.061},{"x":0.734,"y":-0.05},{"x":0.794,"y":-0.032},{"x":0.834,"y":-0.03},{"x":0.934,"y":-0.03},{"x":1,"y":-0.025}]
},
"concat":[
{"width":167,"height":116,"title":{"text":"(a)","dx":-28},
 "layer":[
  {"data":{"name":"a1"},"mark":{"type":"circle","size":6,"color":"#222","opacity":1},
   "encoding":{
    "x":{"field":"x","type":"quantitative","title":null,"scale":{"domain":[0,1],"nice":false},"axis":{"tickCount":30,"values":[0,0.1,0.2,0.3,0.4,0.5,0.6,0.7,0.8,0.9,1],"labels":false}},
    "y":{"field":"y","type":"quantitative","title":"(i)  Γ","scale":{"domain":[0.05,0.5],"nice":false,"zero":false},"axis":{"tickCount":30,"labelOverlap":false,"values":[0.05,0.1,0.15,0.2,0.25,0.3,0.35,0.4,0.45,0.5],"labelExpr":"datum.value == 0 ? '0' : format(datum.value, '.2f')","titleAngle":0,"titleAlign":"right","titleBaseline":"middle","titleX":-29,"titleY":47,"titleFontSize":12}}}},
  {"data":{"name":"a1L"},"mark":{"type":"line","color":"#111","strokeWidth":1.5,"interpolate":"monotone","clip":true},
   "encoding":{"x":{"field":"x","type":"quantitative","title":null},"y":{"field":"y","type":"quantitative","title":"(i)  Γ"}}}
 ]},
{"width":170,"height":116,"title":{"text":"(b)","dx":-15},
 "layer":[
  {"data":{"name":"b1"},"mark":{"type":"circle","size":6,"color":"#222","opacity":1},
   "encoding":{
    "x":{"field":"x","type":"quantitative","title":null,"scale":{"domain":[0,1],"nice":false},"axis":{"tickCount":30,"values":[0,0.1,0.2,0.3,0.4,0.5,0.6,0.7,0.8,0.9,1],"labels":false}},
    "y":{"field":"y","type":"quantitative","title":null,"scale":{"domain":[0,0.5],"nice":false},"axis":{"tickCount":30,"labelOverlap":false,"values":[0,0.05,0.1,0.15,0.2,0.25,0.3,0.35,0.4,0.45,0.5],"labelExpr":"datum.value == 0 ? '0' : format(datum.value, '.2f')","minExtent":23}}}},
  {"data":{"name":"b1L"},"mark":{"type":"line","color":"#111","strokeWidth":1.5,"interpolate":"monotone","clip":true},
   "encoding":{"x":{"field":"x","type":"quantitative","title":null},"y":{"field":"y","type":"quantitative","title":null}}}
 ]},
{"width":173,"height":116,"title":{"text":"(c)","dx":-8},
 "layer":[
  {"data":{"name":"c1"},"mark":{"type":"circle","size":6,"color":"#222","opacity":1},
   "encoding":{
    "x":{"field":"x","type":"quantitative","title":null,"scale":{"domain":[0,1],"nice":false},"axis":{"tickCount":30,"values":[0,0.1,0.2,0.3,0.4,0.5,0.6,0.7,0.8,0.9,1],"labels":false}},
    "y":{"field":"y","type":"quantitative","title":null,"scale":{"domain":[0,0.5],"nice":false},"axis":{"tickCount":30,"labelOverlap":false,"values":[0,0.05,0.1,0.15,0.2,0.25,0.3,0.35,0.4,0.45,0.5],"labelExpr":"datum.value == 0 ? '0' : format(datum.value, '.2f')","minExtent":34}}}},
  {"data":{"name":"c1L"},"mark":{"type":"line","color":"#111","strokeWidth":1.5,"interpolate":"monotone","clip":true},
   "encoding":{"x":{"field":"x","type":"quantitative","title":null},"y":{"field":"y","type":"quantitative","title":null}}}
 ]},
{"width":167,"height":116,
 "layer":[
  {"data":{"name":"a2"},"mark":{"type":"circle","size":6,"color":"#222","opacity":1},
   "encoding":{
    "x":{"field":"x","type":"quantitative","title":null,"scale":{"domain":[0,1],"nice":false},"axis":{"tickCount":30,"values":[0,0.1,0.2,0.3,0.4,0.5,0.6,0.7,0.8,0.9,1],"labels":false}},
    "y":{"field":"y","type":"quantitative","title":"(ii)  Γ","scale":{"domain":[-0.35,0],"nice":false},"axis":{"tickCount":30,"labelOverlap":false,"values":[-0.35,-0.3,-0.25,-0.2,-0.15,-0.1,-0.05,0],"labelExpr":"datum.value == 0 ? '0' : format(datum.value, '.2f')","titleAngle":0,"titleAlign":"right","titleBaseline":"middle","titleX":-29,"titleY":58,"titleFontSize":12}}}},
  {"data":{"name":"a2L"},"mark":{"type":"line","color":"#111","strokeWidth":1.5,"interpolate":"monotone","clip":true},
   "encoding":{"x":{"field":"x","type":"quantitative","title":null},"y":{"field":"y","type":"quantitative","title":"(ii)  Γ"}}}
 ]},
{"width":166,"height":116,
 "layer":[
  {"data":{"name":"b2"},"mark":{"type":"circle","size":6,"color":"#222","opacity":1},
   "encoding":{
    "x":{"field":"x","type":"quantitative","title":null,"scale":{"domain":[0,1],"nice":false},"axis":{"tickCount":30,"values":[0,0.1,0.2,0.3,0.4,0.5,0.6,0.7,0.8,0.9,1],"labels":false}},
    "y":{"field":"y","type":"quantitative","title":null,"scale":{"domain":[-0.35,0],"nice":false},"axis":{"tickCount":30,"labelOverlap":false,"values":[-0.35,-0.3,-0.25,-0.2,-0.15,-0.1,-0.05,0],"labelExpr":"datum.value == 0 ? '0' : format(datum.value, '.2f')","minExtent":29}}}},
  {"data":{"name":"b2L"},"mark":{"type":"line","color":"#111","strokeWidth":1.5,"interpolate":"monotone","clip":true},
   "encoding":{"x":{"field":"x","type":"quantitative","title":null},"y":{"field":"y","type":"quantitative","title":null}}}
 ]},
{"width":166,"height":116,
 "layer":[
  {"data":{"name":"c2"},"mark":{"type":"circle","size":6,"color":"#222","opacity":1},
   "encoding":{
    "x":{"field":"x","type":"quantitative","title":null,"scale":{"domain":[0,1],"nice":false},"axis":{"tickCount":30,"values":[0,0.1,0.2,0.3,0.4,0.5,0.6,0.7,0.8,0.9,1],"labels":false}},
    "y":{"field":"y","type":"quantitative","title":null,"scale":{"domain":[-0.35,0],"nice":false},"axis":{"tickCount":30,"labelOverlap":false,"values":[-0.35,-0.3,-0.25,-0.2,-0.15,-0.1,-0.05,0],"labelExpr":"datum.value == 0 ? '0' : format(datum.value, '.2f')","minExtent":39}}}},
  {"data":{"name":"c2L"},"mark":{"type":"line","color":"#111","strokeWidth":1.5,"interpolate":"monotone","clip":true},
   "encoding":{"x":{"field":"x","type":"quantitative","title":null},"y":{"field":"y","type":"quantitative","title":null}}}
 ]},
{"width":167,"height":115,
 "layer":[
  {"data":{"name":"a3"},"mark":{"type":"circle","size":6,"color":"#222","opacity":1},
   "encoding":{
    "x":{"field":"x","type":"quantitative","title":"τ","scale":{"domain":[0,1],"nice":false},"axis":{"tickCount":30,"labelOverlap":false,"values":[0,0.1,0.2,0.3,0.4,0.5,0.6,0.7,0.8,0.9,1],"labelExpr":"datum.value == 0 ? '0' : datum.value == 1 ? '1' : format(datum.value, '.1f')","titleFontStyle":"italic","titleFontSize":14,"titlePadding":1}},
    "y":{"field":"y","type":"quantitative","title":"(iii)  Γ","scale":{"domain":[0,0.25],"nice":false},"axis":{"tickCount":30,"labelOverlap":false,"values":[0.05,0.1,0.15,0.2,0.25],"labelExpr":"format(datum.value, '.2f')","titleAngle":0,"titleAlign":"right","titleBaseline":"middle","titleX":-29,"titleY":57,"titleFontSize":12}}}},
  {"data":{"name":"a3L"},"mark":{"type":"line","color":"#111","strokeWidth":1.5,"interpolate":"monotone","clip":true},
   "encoding":{"x":{"field":"x","type":"quantitative","title":"τ"},"y":{"field":"y","type":"quantitative","title":"(iii)  Γ"}}}
 ]},
{"width":168,"height":115,
 "layer":[
  {"data":{"name":"b3"},"mark":{"type":"circle","size":6,"color":"#222","opacity":1},
   "encoding":{
    "x":{"field":"x","type":"quantitative","title":"τ","scale":{"domain":[0,1],"nice":false},"axis":{"tickCount":30,"labelOverlap":false,"values":[0,0.1,0.2,0.3,0.4,0.5,0.6,0.7,0.8,0.9,1],"labelExpr":"datum.value == 0 ? '0' : datum.value == 1 ? '1' : format(datum.value, '.1f')","titleFontStyle":"italic","titleFontSize":14,"titlePadding":1}},
    "y":{"field":"y","type":"quantitative","title":null,"scale":{"domain":[0,0.25],"nice":false},"axis":{"tickCount":30,"labelOverlap":false,"values":[0.05,0.1,0.15,0.2,0.25],"labelExpr":"format(datum.value, '.2f')","minExtent":21}}}},
  {"data":{"name":"b3L"},"mark":{"type":"line","color":"#111","strokeWidth":1.5,"interpolate":"monotone","clip":true},
   "encoding":{"x":{"field":"x","type":"quantitative","title":"τ"},"y":{"field":"y","type":"quantitative","title":null}}}
 ]},
{"width":167,"height":115,
 "layer":[
  {"data":{"name":"c3"},"mark":{"type":"circle","size":6,"color":"#222","opacity":1},
   "encoding":{
    "x":{"field":"x","type":"quantitative","title":"τ","scale":{"domain":[0,1],"nice":false},"axis":{"tickCount":30,"labelOverlap":false,"values":[0,0.1,0.2,0.3,0.4,0.5,0.6,0.7,0.8,0.9,1],"labelExpr":"datum.value == 0 ? '0' : datum.value == 1 ? '1' : format(datum.value, '.1f')","titleFontStyle":"italic","titleFontSize":14,"titlePadding":1}},
    "y":{"field":"y","type":"quantitative","title":null,"scale":{"domain":[-0.25,0],"nice":false},"axis":{"tickCount":30,"labelOverlap":false,"values":[-0.25,-0.2,-0.15,-0.1,-0.05,0],"labelExpr":"datum.value == 0 ? '0' : format(datum.value, '.2f')","minExtent":38}}}},
  {"data":{"name":"c3L"},"mark":{"type":"line","color":"#111","strokeWidth":1.5,"interpolate":"monotone","clip":true},
   "encoding":{"x":{"field":"x","type":"quantitative","title":"τ"},"y":{"field":"y","type":"quantitative","title":null}}}
 ]}
]
}
